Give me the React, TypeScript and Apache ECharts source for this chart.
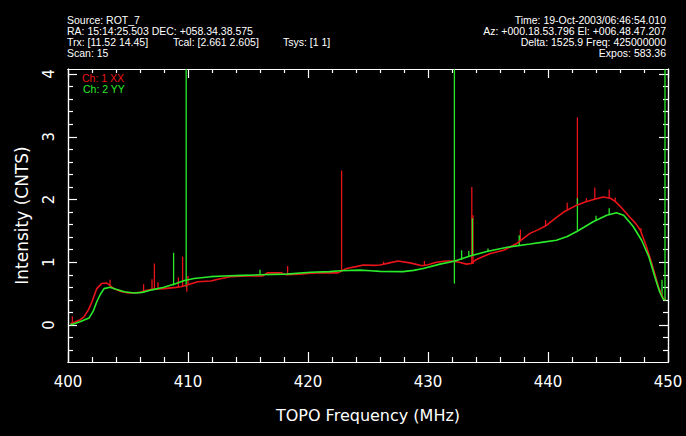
import React, { useEffect, useRef } from "react";
import * as echarts from "echarts";

// ---- Channel 1 (XX) baseline spectrum ----
const xxFreq = [400.2, 400.36, 401.0, 401.33, 401.7, 402.0, 402.4, 402.8, 403.2, 403.5, 403.8, 404.3, 405.0, 405.5, 406.0, 406.5, 407.0, 408.0, 409.0, 409.4, 410.0, 410.8, 411.9, 412.5, 413.5, 415.0, 416.2, 416.6, 417.8, 418.2, 419.3, 420.0, 420.7, 422.5, 422.9, 423.2, 424.0, 424.6, 425.5, 426.0, 426.8, 427.5, 428.5, 429.5, 430.0, 430.7, 431.5, 432.0, 432.6, 433.2, 433.6, 434.0, 434.6, 435.2, 436.3, 437.4, 438.5, 439.2, 439.9, 440.6, 441.3, 442.4, 443.1, 443.8, 444.6, 445.2, 445.6, 446.0, 446.8, 447.3, 447.7, 448.2, 448.5, 448.8, 449.2, 449.6, 449.8];
const xxVal = [0.02, 0.03, 0.08, 0.13, 0.24, 0.37, 0.58, 0.66, 0.67, 0.63, 0.58, 0.54, 0.51, 0.51, 0.52, 0.55, 0.57, 0.58, 0.6, 0.61, 0.64, 0.69, 0.7, 0.73, 0.77, 0.78, 0.78, 0.83, 0.83, 0.8, 0.81, 0.82, 0.83, 0.83, 0.87, 0.9, 0.93, 0.955, 0.95, 0.955, 0.99, 1.02, 0.99, 0.945, 0.96, 1.0, 1.02, 1.02, 1.0, 0.97, 0.98, 1.04, 1.09, 1.14, 1.19, 1.3, 1.46, 1.52, 1.59, 1.7, 1.8, 1.91, 1.96, 2.0, 2.04, 2.02, 1.97, 1.895, 1.72, 1.62, 1.51, 1.25, 1.07, 0.88, 0.61, 0.425, 0.4];

// ---- Channel 2 (YY) baseline spectrum ----
const yyFreq = [400.2, 400.4, 401.0, 401.75, 402.1, 402.4, 402.7, 403.0, 403.5, 404.0, 404.7, 405.5, 406.2, 407.0, 408.0, 409.0, 409.7, 410.5, 411.9, 413.0, 414.5, 416.0, 418.2, 420.2, 421.8, 422.7, 424.3, 425.2, 426.0, 427.9, 428.8, 429.6, 431.0, 432.25, 433.5, 434.9, 436.6, 438.5, 439.6, 440.7, 441.6, 442.4, 443.1, 443.8, 444.9, 445.7, 446.3, 446.7, 447.1, 447.8, 448.4, 448.9, 449.3, 449.6, 449.8];
const yyVal = [0.01, 0.01, 0.05, 0.11, 0.22, 0.37, 0.49, 0.58, 0.6, 0.57, 0.53, 0.51, 0.52, 0.56, 0.6, 0.66, 0.71, 0.74, 0.77, 0.78, 0.79, 0.8, 0.81, 0.84, 0.85, 0.865, 0.875, 0.865, 0.855, 0.85, 0.87, 0.9, 0.97, 1.02, 1.1, 1.17, 1.24, 1.29, 1.32, 1.35, 1.41, 1.49, 1.57, 1.65, 1.75, 1.79, 1.75, 1.66, 1.57, 1.35, 1.09, 0.77, 0.53, 0.41, 0.4];

// ---- Narrow spikes (RFI): frequency, low end, high end ----
const xxSpikeFreq = [400.36, 403.5, 406.3, 407.0, 407.2, 407.5, 409.2, 409.55, 409.9, 410.0, 418.3, 422.8, 426.3, 429.7, 433.65, 433.75, 437.7, 439.8, 441.6, 442.45, 443.2, 443.9, 445.1, 445.6, 447.75];
const xxSpikeLow = [0.03, 0.63, 0.53, 0.57, 0.57, 0.57, 0.6, 0.61, 0.53, 0.64, 0.8, 0.85, 0.96, 0.95, 0.97, 0.97, 1.33, 1.58, 1.83, 1.92, 1.97, 2.0, 2.02, 1.97, 1.5];
const xxSpikeHigh = [0.14, 0.72, 0.65, 0.73, 0.98, 0.68, 0.76, 1.09, 0.63, 0.78, 0.94, 2.46, 1.01, 1.02, 2.2, 1.75, 1.52, 1.67, 1.95, 3.31, 2.02, 2.19, 2.16, 2.03, 1.54];

const yySpikeFreq = [408.8, 409.85, 416.0, 432.2, 432.8, 433.4, 433.7, 435.0, 437.6, 442.45, 444.0, 445.1, 449.5, 449.75];
const yySpikeLow = [0.63, 0.61, 0.8, 0.66, 1.04, 1.09, 1.1, 1.17, 1.27, 1.49, 1.66, 1.76, 0.45, 0.4];
const yySpikeHigh = [1.15, 4.08, 0.88, 4.08, 1.19, 1.18, 1.7, 1.22, 1.43, 2.02, 1.74, 1.86, 0.72, 4.08];

// ---- Axes ----
const xMin = 400;
const xMax = 450;
const yMin = -0.59;
const yMax = 4.08;
const xMajorTicks = [400, 410, 420, 430, 440, 450];
const xMinorTicks = [402, 404, 406, 408, 412, 414, 416, 418, 422, 424, 426, 428, 432, 434, 436, 438, 442, 444, 446, 448];
const yMajorTicks = [0, 1, 2, 3, 4];
const yMinorTicks = [-0.4, -0.2, 0.2, 0.4, 0.6, 0.8, 1.2, 1.4, 1.6, 1.8, 2.2, 2.4, 2.6, 2.8, 3.2, 3.4, 3.6, 3.8];

const headerLeft = [
  "Source: ROT_7",
  "RA: 15:14:25.503 DEC: +058.34.38.575",
  "",
  "Scan: 15",
];
const headerTrxParts = ["Trx: [11.52 14.45]", "Tcal: [2.661 2.605]", "Tsys: [1 1]"];
const headerRight = [
  "Time: 19-Oct-2003/06:46:54.010",
  "Az: +000.18.53.796 El: +006.48.47.207",
  "Delta: 1525.9 Freq: 425000000",
  "Expos: 583.36",
];
const legendNames = ["Ch: 1 XX", "Ch: 2 YY"];

const RED = "#e8141a";
const GREEN = "#2aeb2a";
const FONT = "DejaVu Sans";
const HFONT = "Liberation Sans";

function zip(a: number[], b: number[]) {
  return a.map((v, i) => [v, b[i]]);
}
function spikes(f: number[], lo: number[], hi: number[]) {
  return f.map((v, i) => [v, lo[i], hi[i]]);
}

function spikeSeries(data: number[][], color: string) {
  return {
    type: "custom",
    xAxisIndex: 0,
    yAxisIndex: 0,
    clip: true,
    silent: true,
    data,
    renderItem: (params: any, api: any) => {
      const p1 = api.coord([api.value(0), api.value(1)]);
      const p2 = api.coord([api.value(0), api.value(2)]);
      return {
        type: "line",
        shape: { x1: p1[0], y1: p1[1], x2: p2[0], y2: p2[1] },
        style: { stroke: color, lineWidth: 1.3 },
      };
    },
  };
}

function mkX(position: string, ticks: number[], len: number, labels: boolean, name?: string) {
  return {
    type: "value",
    min: xMin,
    max: xMax,
    position,
    axisLine: { show: true, onZero: false, lineStyle: { color: "#ffffff", width: 1.2 } },
    axisTick: { show: true, inside: true, length: len, customValues: ticks, lineStyle: { color: "#ffffff", width: 1.2 } },
    axisLabel: labels
      ? { show: true, customValues: ticks, color: "#ffffff", fontFamily: FONT, fontSize: 15, margin: 12 }
      : { show: false },
    splitLine: { show: false },
    name: name || "",
    nameLocation: "middle",
    nameGap: 45,
    nameTextStyle: { color: "#ffffff", fontFamily: FONT, fontSize: 16 },
  };
}
function mkY(position: string, ticks: number[], len: number, labels: boolean, name?: string) {
  return {
    type: "value",
    min: yMin,
    max: yMax,
    position,
    axisLine: { show: true, onZero: false, lineStyle: { color: "#ffffff", width: 1.2 } },
    axisTick: { show: true, inside: true, length: len, customValues: ticks, lineStyle: { color: "#ffffff", width: 1.2 } },
    axisLabel: labels
      ? { show: true, customValues: ticks, color: "#ffffff", fontFamily: FONT, fontSize: 15, rotate: 90, margin: 12 }
      : { show: false },
    splitLine: { show: false },
    name: name || "",
    nameLocation: "middle",
    nameGap: 38,
    nameTextStyle: { color: "#ffffff", fontFamily: FONT, fontSize: 17 },
  };
}

export default function App() {
  const ref = useRef<HTMLDivElement>(null);
  useEffect(() => {
    if (!ref.current) return;
    const chart = echarts.init(ref.current, null, { renderer: "svg" });
    const graphics: any[] = [];
    headerLeft.forEach((t, i) => {
      if (!t) return;
      graphics.push({
        type: "text",
        left: 67,
        top: 14 + i * 11,
        style: { text: t, fill: "#ffffff", font: `10.5px "${HFONT}"` },
      });
    });
    const trxX = [67, 173, 283];
    headerTrxParts.forEach((t, i) => {
      graphics.push({
        type: "text",
        left: trxX[i],
        top: 14 + 2 * 11,
        style: { text: t, fill: "#ffffff", font: `10.5px "${HFONT}"` },
      });
    });
    headerRight.forEach((t, i) => {
      graphics.push({
        type: "text",
        right: 20,
        top: 14 + i * 11,
        style: { text: t, fill: "#ffffff", font: `10.5px "${HFONT}"`, textAlign: "right" },
      });
    });
    graphics.push({
      type: "text",
      left: 82,
      top: 72,
      style: { text: legendNames[0], fill: RED, font: `10.5px "${HFONT}"` },
    });
    graphics.push({
      type: "text",
      left: 83,
      top: 83,
      style: { text: legendNames[1], fill: GREEN, font: `10.5px "${HFONT}"` },
    });

    chart.setOption({
      animation: false,
      backgroundColor: "#000000",
      grid: { left: 68, right: 18, top: 69, bottom: 74, containLabel: false, outerBoundsMode: "none" },
      xAxis: [
        mkX("bottom", xMajorTicks, 10, true, "TOPO Frequency (MHz)"),
        mkX("bottom", xMinorTicks, 5, false),
        mkX("top", xMajorTicks, 9, false),
        mkX("top", xMinorTicks, 4, false),
      ],
      yAxis: [
        mkY("left", yMajorTicks, 9, true, "Intensity (CNTS)"),
        mkY("left", yMinorTicks, 5, false),
        mkY("right", yMajorTicks, 9, false),
        mkY("right", yMinorTicks, 5, false),
      ],
      graphic: graphics,
      series: [
        {
          type: "line",
          name: legendNames[0],
          xAxisIndex: 0,
          yAxisIndex: 0,
          data: zip(xxFreq, xxVal),
          showSymbol: false,
          symbol: "none",
          lineStyle: { color: RED, width: 1.6 },
          silent: true,
        },
        spikeSeries(spikes(xxSpikeFreq, xxSpikeLow, xxSpikeHigh), RED),
        {
          type: "line",
          name: legendNames[1],
          xAxisIndex: 0,
          yAxisIndex: 0,
          data: zip(yyFreq, yyVal),
          showSymbol: false,
          symbol: "none",
          lineStyle: { color: GREEN, width: 1.6 },
          silent: true,
        },
        spikeSeries(spikes(yySpikeFreq, yySpikeLow, yySpikeHigh), GREEN),
      ],
    });
    return () => chart.dispose();
  }, []);
  return (
    <div
      ref={ref}
      style={{ position: "absolute", left: 0, top: 0, width: 686, height: 436, background: "#000" }}
    />
  );
}
